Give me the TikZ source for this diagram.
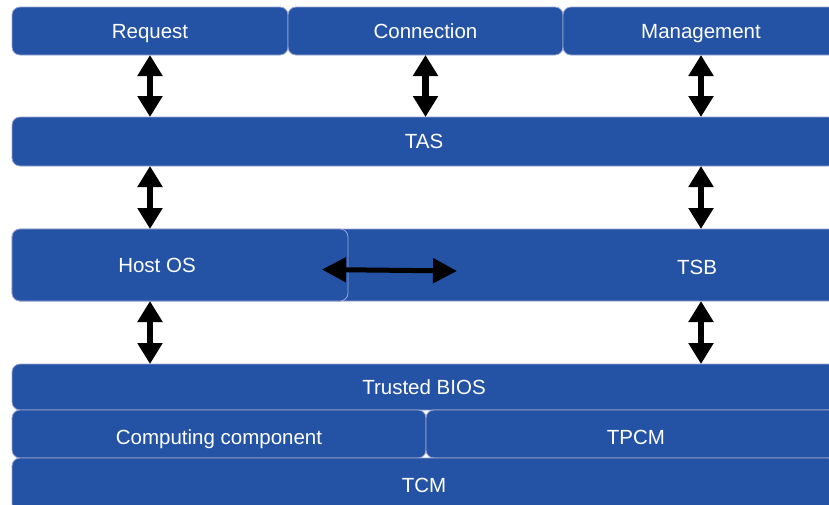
\documentclass[tikz,border=0pt]{standalone}
\usepackage{fontspec}
\setmainfont{Liberation Sans}
\usetikzlibrary{arrows.meta}
\definecolor{boxblue}{HTML}{2452A4}
\definecolor{boxedge}{HTML}{9AA5D2}
\tikzset{
  blk/.style={draw=boxedge, line width=0.8pt, fill=boxblue, rounded corners=8pt,
    text=white, font=\fontsize{20.5}{24}\selectfont, inner sep=0pt, outer sep=0pt,
    text height=18.5pt, text depth=4pt},
  low/.style={text height=21.5pt, text depth=1pt},
  lowish/.style={text height=20.5pt, text depth=2pt},
  lbl/.style={text=white, font=\fontsize{20.5}{24}\selectfont, inner sep=0pt,
    text height=18.5pt, text depth=4pt},
  varr/.style={line width=6.5pt, {Triangle[length=21pt,width=24pt]}-{Triangle[length=21pt,width=24pt]}},
  harr/.style={line width=5pt, {Triangle[length=24pt,width=24pt]}-{Triangle[length=24pt,width=24pt]}}
}
\begin{document}
\begin{tikzpicture}[x=1pt,y=-1pt]
\useasboundingbox (0,0) rectangle (829,504);
\clip (0,0) rectangle (829,504);
\fill[white] (0,0) rectangle (829,504);
% top row
\node[blk, minimum width=276pt, minimum height=48pt] (req) at (150,31) {Request};
\node[blk, minimum width=275pt, minimum height=48pt] (con) at (425.5,31) {Connection};
\node[blk, minimum width=276pt, minimum height=48pt] (man) at (701,31) {Management};
% TAS
\node[blk, minimum width=824pt, minimum height=49pt] (tas) at (424,141.5) {TAS};
% TSB and Host OS
\node[blk, lowish, minimum width=1370pt, minimum height=72pt] (tsb) at (697,265) {TSB};
\node[blk, minimum width=336pt, minimum height=72pt] (host) at (180,265) {};
\node[lbl] (hostt) at (157,265) {Host OS};
% lower blocks
\node[blk, minimum width=824pt, minimum height=46pt] (bios) at (424,387) {Trusted BIOS};
\node[blk, low, minimum width=414pt, minimum height=48pt] (comp) at (219,434) {Computing component};
\node[blk, low, minimum width=420pt, minimum height=48pt] (tpcm) at (636,434) {TPCM};
\node[blk, minimum width=824pt, minimum height=54pt] (tcm) at (424,485) {TCM};
% arrows
\draw[varr] (req.south) -- (req.south |- tas.north);
\draw[varr] (con.south) -- (con.south |- tas.north);
\draw[varr] (man.south) -- (man.south |- tas.north);
\draw[varr] (tas.south -| req.south) -- (host.north -| req.south);
\draw[varr] (tas.south -| man.south) -- (tsb.north -| man.south);
\draw[varr] (host.south -| req.south) -- (bios.north -| req.south);
\draw[varr] (tsb.south -| man.south) -- (bios.north -| man.south);
\coordinate (hl) at (322,269.5);
\coordinate (hr) at (457,271);
\draw[harr] (hl) -- (hr);
\end{tikzpicture}
\end{document}
